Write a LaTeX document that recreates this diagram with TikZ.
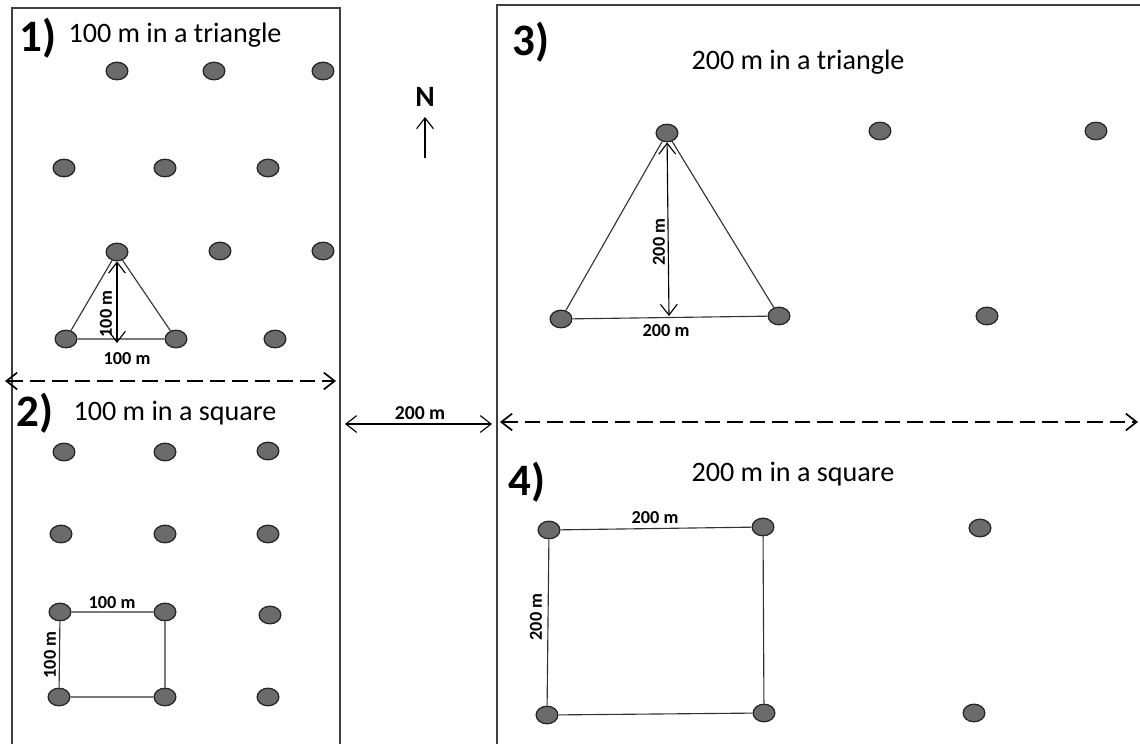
\documentclass[tikz,border=0pt]{standalone}
\usepackage{fontspec}
\setmainfont{Carlito}
\usetikzlibrary{arrows.meta,shapes.geometric}

\begin{document}
\begin{tikzpicture}[x=0.025cm,y=-0.025cm,>={Straight Barb[length=2.7mm,width=4.2mm]},tree/.style={draw=black!85,fill=black!58,ellipse,minimum width=15.5pt,minimum height=12.5pt,inner sep=0pt,line width=0.9pt},title/.style={font=\fontsize{20}{24}\selectfont},num/.style={font=\bfseries\fontsize{32}{36}\selectfont},dist/.style={font=\bfseries\fontsize{13}{15}\selectfont,inner sep=1pt},frame/.style={draw=black!75,line width=1pt},side/.style={draw=black!80,line width=0.8pt},split/.style={dash pattern=on 11pt off 5pt,line width=1.2pt}]
\useasboundingbox (0,0) rectangle (1140,744);
\draw[frame] (12,744)--(12,8)--(340,8)--(340,744);
\draw[frame] (497,744)--(497,5)--(1140,5);
% panel 1
\node[num] (h1) at (38,38) {1)};
\node[title] (t1) at (175,35) {100 m in a triangle};
\node[tree] (a1) at (117,71) {};
\node[tree] (a2) at (214,71) {};
\node[tree] (a3) at (323,71) {};
\node[tree] (a4) at (64,168) {};
\node[tree] (a5) at (165,168) {};
\node[tree] (a6) at (268,168) {};
\node[tree] (a7) at (117,252) {};
\node[tree] (a8) at (220,251) {};
\node[tree] (a9) at (323,251) {};
\node[tree] (a10) at (66,339) {};
\node[tree] (a11) at (176,339) {};
\node[tree] (a12) at (275,339) {};
\draw[side] (a7)--(a10)--(a11)--(a7);
\coordinate (m1) at (117,343);
\draw[thick,<->] (a7)--(m1);
\node[dist,rotate=90] (l1) at (106,314) {100 m};
\node[dist] (l2) at (127,359) {100 m};
% split 1/2
\coordinate (e1) at (5,381);
\coordinate (e2) at (336,381);
\draw[split,<->] (e1)--(e2);
% panel 2
\node[num] (h2) at (35,413) {2)};
\node[title] (t2) at (175,413) {100 m in a square};
\node[tree] (b1) at (64,452) {};
\node[tree] (b2) at (165,452) {};
\node[tree] (b3) at (268,451) {};
\node[tree] (b4) at (61,534) {};
\node[tree] (b5) at (165,534) {};
\node[tree] (b6) at (268,534) {};
\node[tree] (b7) at (60,612) {};
\node[tree] (b8) at (165,612) {};
\node[tree] (b9) at (270,615) {};
\node[tree] (b10) at (59,697) {};
\node[tree] (b11) at (165,697) {};
\node[tree] (b12) at (268,697) {};
\draw[side] (b7)--(b8)--(b11)--(b10)--(b7);
\node[dist] (l3) at (112,603) {100 m};
\node[dist,rotate=90] (l4) at (50,655) {100 m};
% north and gap
\node[font=\bfseries\fontsize{21}{24}\selectfont] (n) at (425,97) {N};
\coordinate (g1) at (425,158);
\coordinate (g2) at (425,117);
\draw[thick,->] (g1)--(g2);
\coordinate (f1) at (345,424);
\coordinate (f2) at (492,424);
\draw[thick,<->] (f1)--(f2);
\node[font=\bfseries\fontsize{14}{16}\selectfont,inner sep=1pt] (l5) at (420,413) {200 m};
% panel 3
\node[num] (h3) at (531,42) {3)};
\node[title] (t3) at (798,62) {200 m in a triangle};
\node[tree] (c1) at (667,133) {};
\node[tree] (c2) at (880,131) {};
\node[tree] (c3) at (1096,131) {};
\node[tree] (c4) at (561,319) {};
\node[tree] (c5) at (779,316) {};
\node[tree] (c6) at (987,316) {};
\draw[side] (c1)--(c4)--(c5)--(c1);
\coordinate (m2) at (669,316);
\draw[thick,<->] (c1)--(m2);
\node[dist,rotate=90] (l6) at (659,242) {200 m};
\node[dist] (l7) at (666,331) {200 m};
% split 3/4
\coordinate (e3) at (500,422);
\coordinate (e4) at (1138,422);
\draw[split,<->] (e3)--(e4);
% panel 4
\node[num] (h4) at (527,482) {4)};
\node[title] (t4) at (793,474) {200 m in a square};
\node[tree] (d1) at (549,530) {};
\node[tree] (d2) at (763,527) {};
\node[tree] (d3) at (980,528) {};
\node[tree] (d4) at (547,715) {};
\node[tree] (d5) at (764,713) {};
\node[tree] (d6) at (974,713) {};
\draw[side] (d1)--(d2)--(d5)--(d4)--(d1);
\node[dist] (l8) at (655,518) {200 m};
\node[dist,rotate=90] (l9) at (536,617) {200 m};
\end{tikzpicture}
\end{document}
